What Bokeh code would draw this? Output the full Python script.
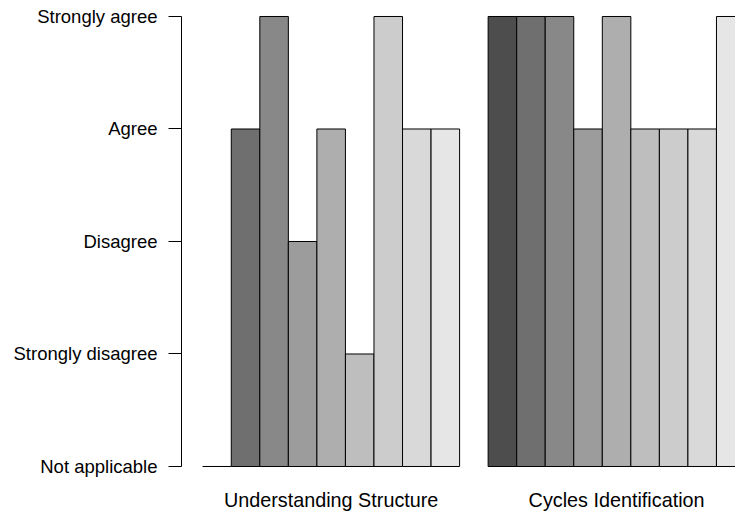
from bokeh.plotting import figure
from bokeh.models import FixedTicker, Range1d, ColumnDataSource
from bokeh.embed import file_html
from bokeh.resources import INLINE

# ---- data ----
groups = ["Understanding Structure", "Cycles Identification"]
levels = ["Not applicable", "Strongly disagree", "Disagree", "Agree", "Strongly agree"]
understanding = [0, 3, 4, 2, 3, 1, 4, 3, 3]
cycles = [4, 4, 4, 3, 4, 3, 3, 3, 4]
grays = ["#4D4D4D", "#6F6F6F", "#888888", "#9C9C9C", "#AEAEAE",
         "#BEBEBE", "#CCCCCC", "#D9D9D9", "#E6E6E6"]

series = [understanding, cycles]

# R barplot(beside=TRUE) layout: one bar-width gap before each group
xs, tops, cols, centers = [], [], [], []
pos = 0.0
for vals in series:
    pos += 1.0
    start = pos
    for i, v in enumerate(vals):
        xs.append(pos + 0.5)
        tops.append(v)
        cols.append(grays[i])
        pos += 1.0
    centers.append((start + pos) / 2.0)

src = ColumnDataSource(dict(x=xs, top=tops, color=cols))

p = figure(frame_width=554, frame_height=478, output_backend="svg",
           toolbar_location=None,
           x_range=Range1d(0.256, 19.667), y_range=Range1d(-0.10667, 4.1422),
           min_border_left=181, min_border_right=0, min_border_top=0,
           min_border_bottom=35)

p.vbar(x="x", top="top", bottom=0, width=1.0, fill_color="color",
       line_color="black", line_width=1, source=src)

p.outline_line_color = None
p.xgrid.visible = False
p.ygrid.visible = False
p.background_fill_color = "white"
p.border_fill_color = "white"

ya = p.yaxis[0]
ya.ticker = FixedTicker(ticks=list(range(len(levels))))
ya.major_label_overrides = {i: lab for i, lab in enumerate(levels)}
ya.bounds = (0, len(levels) - 1)
ya.major_tick_out = 13
ya.major_tick_in = 0
ya.minor_tick_line_color = None
ya.axis_line_color = "black"
ya.major_tick_line_color = "black"
ya.major_label_standoff = 11
ya.major_label_text_font = "Liberation Sans"
ya.major_label_text_font_size = "18.5px"
ya.major_label_text_color = "black"

xa = p.xaxis[0]
xa.ticker = FixedTicker(ticks=centers)
xa.major_label_overrides = {c: g for c, g in zip(centers, groups)}
xa.axis_line_color = None
xa.major_tick_line_color = None
xa.minor_tick_line_color = None
xa.major_label_standoff = 4
xa.major_label_text_font = "Liberation Sans"
xa.major_label_text_font_size = "19.8px"
xa.major_label_text_color = "black"

open("out.html", "w").write(file_html(p, INLINE))
